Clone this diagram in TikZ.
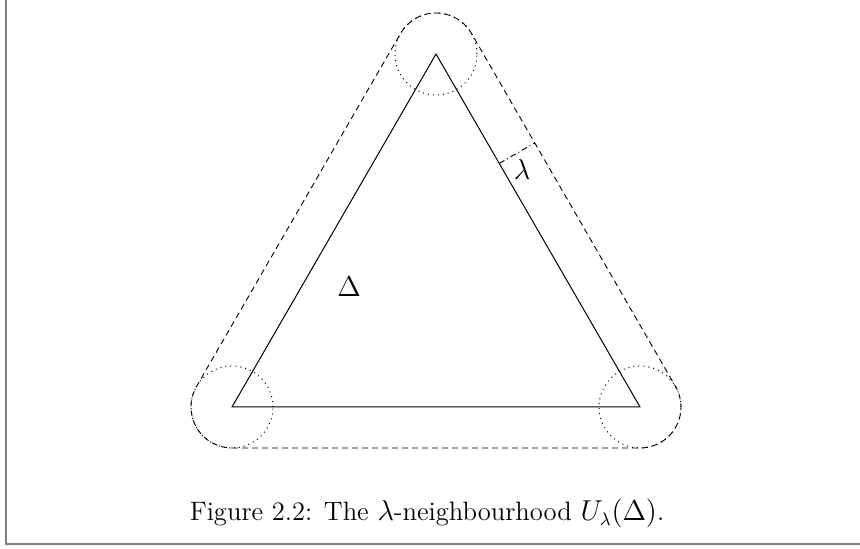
\documentclass[tikz,border=0pt]{standalone}
\usetikzlibrary{calc}
\begin{document}
\begin{tikzpicture}[x=0.5pt,y=0.5pt,
  edge/.style={line width=0.5pt},
  hull/.style={line width=0.45pt,dash pattern=on 3pt off 2pt},
  dotcirc/.style={line width=0.5pt,dash pattern=on 0.5pt off 2pt},
  lammark/.style={line width=0.45pt,dash pattern=on 3pt off 1.5pt on 0.5pt off 1.5pt},
  framel/.style={draw=gray,line width=1pt},
  lbl/.style={inner sep=0pt,font=\Large}]
\useasboundingbox (0,0) rectangle (860,549);
\coordinate (A) at (232,142);
\coordinate (B) at (640,142);
\coordinate (C) at (436,495);
% frame
\coordinate (f1) at (6,549);
\coordinate (f2) at (6,5);
\coordinate (f3) at (860,5);
\draw[framel] (f1) -- (f2) -- (f3);
% triangle
\draw[edge] (A) -- (B) -- (C) -- cycle;
% dotted circles
\foreach \v in {A,B,C} \draw[dotcirc] (\v) circle[radius=20.5pt];
% neighbourhood outline
\draw[hull] ($(A)+(270:41)$) -- ($(B)+(270:41)$)
  arc[start angle=-90,end angle=30,radius=20.5pt]
  -- ($(C)+(30:41)$)
  arc[start angle=30,end angle=150,radius=20.5pt]
  -- ($(A)+(150:41)$)
  arc[start angle=150,end angle=270,radius=20.5pt] -- cycle;
% lambda marker
\coordinate (m1) at ($(C)!0.31!(B)$);
\coordinate (m2) at ($(m1)+(30:41)$);
\draw[lammark] (m1) -- (m2);
\node[lbl] (lam) at (522,379) {$\lambda$};
\node[lbl] (del) at (349,262) {$\Delta$};
\node[font=\fontsize{13.3}{15}\selectfont,anchor=base] (cap) at (427,28)
  {Figure 2.2: The $\lambda$-neighbourhood $U_\lambda(\Delta)$.};
\end{tikzpicture}
\end{document}
